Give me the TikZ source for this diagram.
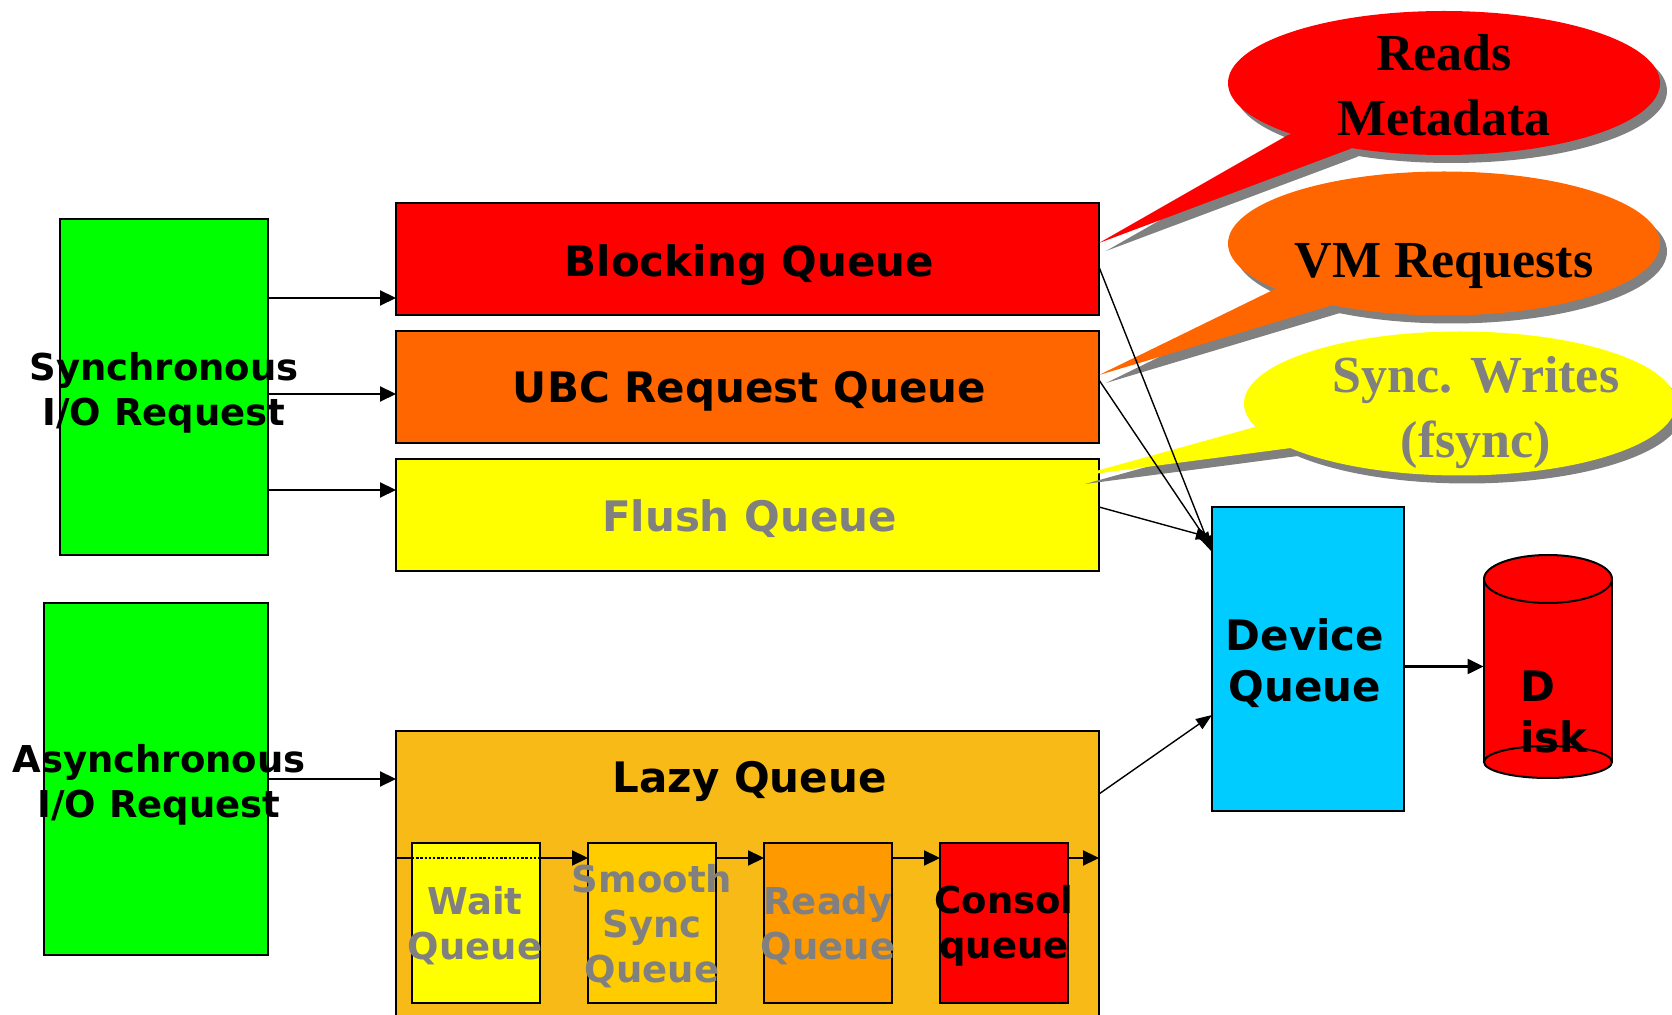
\documentclass[tikz,border=0pt]{standalone}
\usepackage{fontspec}
\usetikzlibrary{arrows.meta,fit,calc}
\newfontfamily\dvsans{DejaVu Sans}
\newfontfamily\libserif{Liberation Serif}
\definecolor{srcgreen}{HTML}{00FF00}
\definecolor{qred}{HTML}{FF0000}
\definecolor{qorange}{HTML}{FF6600}
\definecolor{qyellow}{HTML}{FFFF00}
\definecolor{lazyc}{HTML}{F8BA16}
\definecolor{smoothc}{HTML}{FFCC00}
\definecolor{readyc}{HTML}{FF9900}
\definecolor{devc}{HTML}{00CCFF}
\definecolor{tgray}{HTML}{808080}
\begin{document}
\begin{tikzpicture}[x=0.5pt,y=-0.5pt,
  box/.style={draw=black, line width=1pt, inner sep=0pt, outer sep=0pt},
  qlab/.style={font=\dvsans\bfseries\fontsize{21}{25}\selectfont, inner sep=0pt, anchor=base},
  slab/.style={font=\dvsans\bfseries\fontsize{18.5}{22.5}\selectfont, align=center, inner sep=0pt},
  dlab/.style={font=\dvsans\bfseries\fontsize{21}{25.5}\selectfont, inner sep=0pt},
  clab/.style={font=\libserif\bfseries\fontsize{26}{32.5}\selectfont, align=center, inner sep=0pt},
  arr/.style={line width=1.1pt, -{Triangle[length=8pt,width=7.5pt]}},
  diag/.style={line width=0.7pt, -{Triangle[length=8pt,width=6pt]}},
  shadowc/.style={fill=tgray},
]
\useasboundingbox (0,0) rectangle (1672,1015);
\clip (0,0) rectangle (1672,1015);

% request sources
\node[box, fill=srcgreen, fit={(60,219) (268,555)}] (sync) {};
\node[box, fill=srcgreen, fit={(44,603) (268,955)}] (async) {};

% synchronous queues
\node[box, fill=qred, fit={(396,203) (1099,315)}] (block) {};
\node[box, fill=qorange, fit={(396,331) (1099,443)}] (ubc) {};
\node[box, fill=qyellow, fit={(396,459) (1099,571)}] (flush) {};
\node[qlab] (blockT) at ($(block.center)+(2,18)$) {Blocking Queue};
\node[qlab] (ubcT) at ($(ubc.center)+(2,16)$) {UBC Request Queue};
\node[qlab, text=tgray] (flushT) at ($(flush.center)+(2,17)$) {Flush Queue};

% lazy queue and its stages
\node[box, fill=lazyc, fit={(396,731) (1099,1030)}] (lazy) {};
\node[qlab] (lazyT) at ($(lazy.north)+(2,62)$) {Lazy Queue};
\node[box, fill=qyellow, fit={(412,843) (540,1003)}] (wait) {};
\node[box, fill=smoothc, fit={(588,843) (716,1003)}] (smooth) {};
\node[box, fill=readyc, fit={(764,843) (892,1003)}] (ready) {};
\node[box, fill=qred, fit={(940,843) (1068,1003)}] (consol) {};

% device queue and disk
\node[box, fill=devc, fit={(1212,507) (1404,811)}] (device) {};
\node[fit={(1484,555) (1612,778)}, inner sep=0pt] (disk) {};
\fill[qred] (1484,579) -- (1484,762) arc[start angle=180, end angle=360, x radius=32pt, y radius=8pt] -- (1612,579) -- cycle;
\draw[line width=1pt] (1548,762) ellipse [x radius=32pt, y radius=8pt];
\draw[line width=1pt] (1484,579) -- (1484,762) (1612,579) -- (1612,762);
\filldraw[fill=qred, line width=1pt] (1548,579) ellipse [x radius=32pt, y radius=12pt];

% flow into the queues
\coordinate (inB) at ($(block.west)+(0,39)$);
\coordinate (inU) at ($(ubc.west)+(0,7)$);
\coordinate (inF) at ($(flush.west)+(0,-25)$);
\draw[arr] (sync.east |- inB) -- (inB);
\draw[arr] (sync.east |- inU) -- (inU);
\draw[arr] (sync.east |- inF) -- (inF);
\draw[arr] (async.east) -- (async.east -| lazy.west);

% chain of lazy stages
\coordinate (chain) at ($(wait.north)+(0,15)$);
\draw[line width=1.1pt] (lazy.west |- chain) -- (wait.west |- chain);
\draw[line width=1.1pt, dash pattern=on 1.2pt off 0.9pt] (wait.west |- chain) -- (wait.east |- chain);
\draw[arr] (wait.east |- chain) -- (smooth.west |- chain);
\draw[arr] (smooth.east |- chain) -- (ready.west |- chain);
\draw[arr] (ready.east |- chain) -- (consol.west |- chain);
\draw[arr] (consol.east |- chain) -- (lazy.east |- chain);

% labels
\node[slab] (syncT) at ($(sync.center)+(0,6)$) {Synchronous\\I/O Request};
\node[slab] (asyncT) at ($(async.center)+(3,6)$) {Asynchronous\\I/O Request};
\node[slab, text=tgray] (waitT) at ($(wait.center)+(-1,3)$) {Wait\\Queue};
\node[slab, text=tgray] (smoothT) at ($(smooth.center)+(0,3)$) {Smooth\\Sync\\Queue};
\node[slab, text=tgray] (readyT) at ($(ready.center)+(0,3)$) {Ready\\Queue};
\node[slab] (consolT) at ($(consol.center)+(0,3)$) {Consol\\queue};
\node[dlab, align=center] (deviceT) at ($(device.center)+(-3,4)$) {Device\\Queue};
\node[dlab, align=left, anchor=west] (diskT) at (1520,712) {D\\isk};
\draw[arr] (device.east |- disk.west) -- (disk.west);

% callout: reads
\begin{scope}[shift={(7,8)}]
  \fill[shadowc] (1444,83) ellipse [x radius=108pt, y radius=36pt];
  \fill[shadowc] (1099,243) -- (1288,135) -- (1444,83) -- (1350,149) -- cycle;
\end{scope}
\fill[qred] (1444,83) ellipse [x radius=108pt, y radius=36pt];
\fill[qred] (1099,243) -- (1288,135) -- (1444,83) -- (1350,149) -- cycle;
\node[clab] (readsT) at (1444,85) {Reads\\Metadata};

% callout: VM requests
\begin{scope}[shift={(7,8)}]
  \fill[shadowc] (1444,243.5) ellipse [x radius=108pt, y radius=36pt];
  \fill[shadowc] (1099,375) -- (1273,290) -- (1444,243.5) -- (1333,305) -- cycle;
\end{scope}
\fill[qorange] (1444,243.5) ellipse [x radius=108pt, y radius=36pt];
\fill[qorange] (1099,375) -- (1273,290) -- (1444,243.5) -- (1333,305) -- cycle;
\node[clab, anchor=base] (vmT) at (1444,278) {VM Requests};

% callout: sync writes
\begin{scope}[shift={(7,8)}]
  \fill[shadowc] (1460,403.5) ellipse [x radius=108pt, y radius=36pt];
  \fill[shadowc] (1078,476) -- (1255,427) -- (1460,403.5) -- (1291,448) -- cycle;
\end{scope}
\fill[qyellow] (1460,403.5) ellipse [x radius=108pt, y radius=36pt];
\fill[qyellow] (1078,476) -- (1255,427) -- (1460,403.5) -- (1291,448) -- cycle;
\node[clab, text=tgray] (syncwT) at (1476,413) {Sync. Writes\\(fsync)};

% paths into the device queue
\draw[diag] ($(block.east)+(0,8)$) -- ($(device.north west)+(0,45)$);
\draw[diag] ($(ubc.east)+(0,-7)$) -- ($(device.north west)+(0,41)$);
\draw[diag] ($(flush.east)+(0,-8)$) -- ($(device.north west)+(0,31)$);
\draw[diag] ($(lazy.north east)+(0,63)$) -- ($(device.west)+(0,56)$);
\end{tikzpicture}
\end{document}
